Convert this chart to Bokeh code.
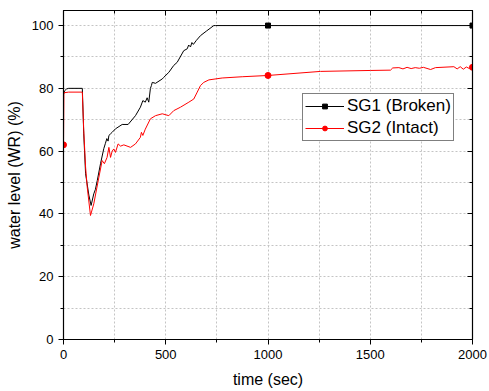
from bokeh.plotting import figure
from bokeh.models import (LinearAxis, SingleIntervalTicker, Range1d, Legend, LegendItem)
from bokeh.embed import file_html
from bokeh.resources import INLINE

# SG1 (Broken) water level
sg1_t = [0, 5, 15, 25, 92, 99, 108, 124, 135, 148, 156, 165, 181, 197, 205, 212, 218, 222,
         230, 238, 254, 287, 316, 352, 376, 388, 400, 409, 417, 425, 430, 434, 450, 483,
         490, 515, 539, 556, 588, 605, 612, 621, 628, 635, 650, 670, 700, 735, 743, 1000, 2000]
sg1_v = [78.0, 79.2, 79.8, 80.0, 80.0, 65.5, 52.8, 46.0, 42.7, 46.4, 47.8, 50.6, 56.0, 60.8, 62.5, 64.0, 63.2, 65.0,
         65.5, 66.0, 67.1, 68.5, 68.5, 71.3, 74.0, 76.1, 75.6, 77.0, 75.6, 80.0, 80.9, 81.9, 81.6, 83.0,
         83.5, 85.1, 87.3, 88.3, 92.0, 92.6, 93.8, 93.2, 94.6, 94.0, 95.3, 96.8, 98.3, 100.0, 100.0, 100.0, 100.0]

# SG2 (Intact) water level
sg2_t = [0, 2, 25, 92, 99, 108, 116, 132, 148, 173, 189, 200, 213, 222, 230, 238, 246, 254, 267,
         279, 295, 328, 352, 376, 381, 388, 400, 425, 450, 483, 515, 539, 572, 613, 637, 654, 670,
         686, 711, 776, 874, 1000, 1257, 1501, 1599, 1610, 1640, 1660, 1680, 1700, 1720, 1740, 1760,
         1795, 1819, 1909, 1925, 1940, 1955, 1970, 1985, 2000]
sg2_v = [62.0, 78.6, 78.8, 78.8, 66.6, 54.9, 48.5, 39.5, 43.2, 51.7, 57.0, 56.0, 58.0, 61.2, 58.0, 60.0, 60.7, 59.6, 62.3,
         61.6, 62.0, 61.2, 62.3, 64.4, 66.0, 65.0, 67.0, 70.3, 71.3, 71.9, 71.3, 72.9, 74.0, 75.6, 76.6, 78.8, 80.9,
         81.9, 82.7, 83.3, 83.7, 84.1, 85.4, 85.7, 85.8, 86.5, 86.6, 86.2, 86.7, 86.3, 86.6, 86.4, 86.7,
         86.0, 86.6, 86.9, 86.2, 86.9, 86.1, 86.8, 86.3, 86.7]

# marker positions
sg1_mt = [1000, 2000]
sg1_mv = [100.0, 100.0]
sg2_mt = [0, 1000, 2000]
sg2_mv = [62.0, 84.1, 86.7]

FONT = "Liberation Sans"

p = figure(frame_width=409, frame_height=329, output_backend="svg", toolbar_location=None,
           x_range=Range1d(0, 2000), y_range=Range1d(0, 104.8),
           x_axis_label="time (sec)", y_axis_label="water level (WR) (%)")
p.min_border_left = 63
p.min_border_right = 17
p.min_border_top = 10
p.min_border_bottom = 52
p.outline_line_color = "black"
p.outline_line_width = 1
p.background_fill_color = "white"
p.border_fill_color = "white"

p.xaxis.ticker = SingleIntervalTicker(interval=500, num_minor_ticks=2)
p.yaxis.ticker = SingleIntervalTicker(interval=20, num_minor_ticks=2)
p.xgrid.ticker = SingleIntervalTicker(interval=250)
p.ygrid.ticker = SingleIntervalTicker(interval=10)
for g in (p.xgrid, p.ygrid):
    g.grid_line_color = "#c4c4c4"
    g.grid_line_dash = "2 2"
    g.grid_line_width = 1

for ax in (p.xaxis, p.yaxis):
    ax.axis_line_color = "black"
    ax.axis_line_width = 1.2
    ax.major_tick_line_color = "black"
    ax.minor_tick_line_color = "black"
    ax.major_tick_out = 5
    ax.major_tick_in = 0
    ax.minor_tick_out = 3
    ax.minor_tick_in = 0
    ax.major_label_text_font = FONT
    ax.major_label_text_font_size = "13px"
    ax.major_label_text_color = "black"
    ax.axis_label_text_font = FONT
    ax.axis_label_text_font_size = "16px"
    ax.axis_label_text_font_style = "normal"
    ax.axis_label_text_color = "black"
    ax.major_label_standoff = 5
p.xaxis.axis_label_standoff = 9
p.yaxis.axis_label_standoff = 6

# mirrored axes on top and right (ticks inward, no labels drawn)
top = LinearAxis(ticker=SingleIntervalTicker(interval=500, num_minor_ticks=2))
right = LinearAxis(ticker=SingleIntervalTicker(interval=20, num_minor_ticks=2))
for ax in (top, right):
    ax.major_label_text_font_size = "1px"
    ax.major_label_text_color = None
    ax.major_label_standoff = 0
    ax.major_tick_in = 5
    ax.major_tick_out = 0
    ax.minor_tick_in = 3
    ax.minor_tick_out = 0
    ax.axis_line_color = "black"
    ax.axis_line_width = 1.2
p.add_layout(top, "above")
p.add_layout(right, "right")

l1 = p.line(sg1_t, sg1_v, line_color="black", line_width=1)
s1 = p.scatter(sg1_mt, sg1_mv, marker="square", size=5, fill_color="black", line_color="black")
l2 = p.line(sg2_t, sg2_v, line_color="red", line_width=1)
s2 = p.scatter(sg2_mt, sg2_mv, marker="circle", size=6, fill_color="red", line_color="red")

legend = Legend(items=[LegendItem(label="SG1 (Broken)", renderers=[l1, s1]),
                       LegendItem(label="SG2 (Intact)", renderers=[l2, s2])],
                location=(239, 198))
legend.label_text_font = FONT
legend.label_text_font_size = "17px"
legend.label_text_color = "black"
legend.glyph_width = 39
legend.glyph_height = 12
legend.label_height = 20
legend.label_standoff = 3
legend.spacing = 2
legend.padding = 2
legend.margin = 0
legend.border_line_color = "black"
legend.border_line_width = 1
legend.background_fill_color = "white"
legend.background_fill_alpha = 1
p.add_layout(legend, "center")

open("out.html", "w").write(file_html(p, INLINE))
